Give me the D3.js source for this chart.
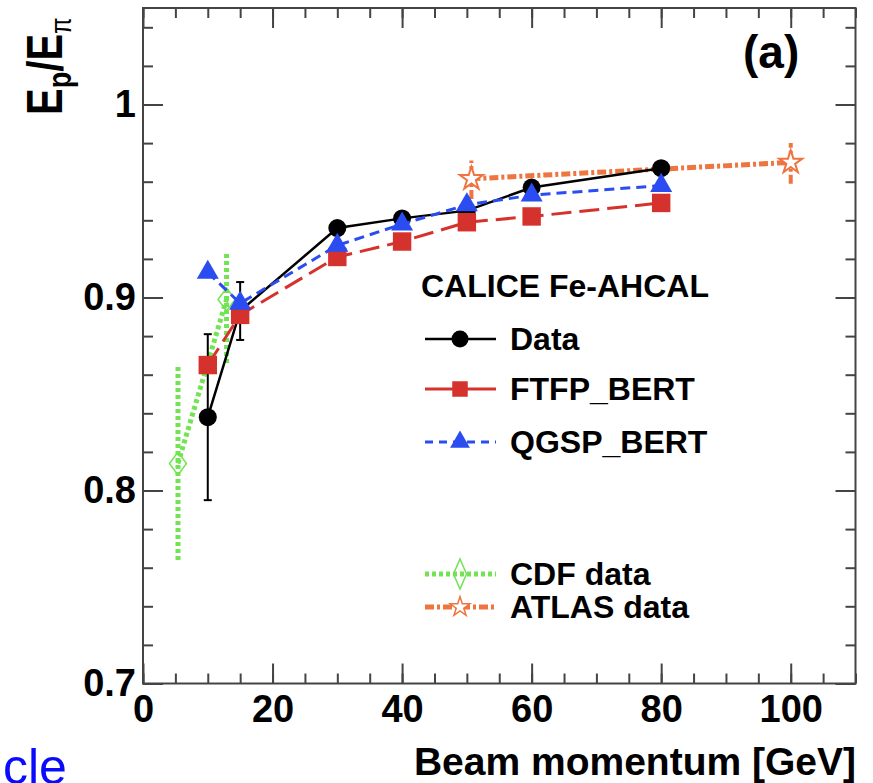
<!DOCTYPE html>
<html>
<head>
<meta charset="utf-8">
<script src="https://d3js.org/d3.v7.min.js"></script>
<style>
body { margin: 0; background: #fff; }
text { font-family: "Liberation Sans", Arial, Helvetica, sans-serif; font-weight: bold; }
</style>
</head>
<body>
<div id="chart"></div>
<script>
// CALICE Fe-AHCAL points, beam momentum in GeV
var momenta = [10, 15, 30, 40, 50, 60, 80];
var dataVals = [0.838, 0.893, 0.936, 0.941, 0.945, 0.957, 0.967];
var dataErr = [0.043, 0.015, 0.003, 0.003, 0.003, 0.003, 0.003];
var ftfpVals = [0.865, 0.891, 0.921, 0.929, 0.939, 0.942, 0.949];
var qgspVals = [0.913, 0.897, 0.927, 0.938, 0.948, 0.953, 0.958];

// older measurements
var cdfMomenta = [5.4, 12.9];
var cdfVals = [0.814, 0.899];
var cdfLow = [0.764, 0.866];
var cdfHigh = [0.865, 0.923];
var atlasMomenta = [50.7, 100];
var atlasVals = [0.9615, 0.970];
var atlasLow = [0.951, 0.959];
var atlasHigh = [0.971, 0.980];

var xTicks = [0, 20, 40, 60, 80, 100];
var yTicks = [0.7, 0.8, 0.9, 1];
var xMinor = d3.range(0, 23).map(function(i) { return i * 5; });
var yMinor = d3.range(0, 18).map(function(i) { return Math.round((0.7 + i * 0.02) * 100) / 100; });

var width = 873, height = 783;
var frameLeft = 143, frameRight = 855.5, frameTop = 8, frameBottom = 683.5;

var red = '#d6322d', blue = '#2a4cf0', green = '#72e352', orange = '#ee7440';

var x = d3.scaleLinear().domain([0, 110]).range([frameLeft, frameRight]);
var y = d3.scaleLinear().domain([0.7, 1.05]).range([frameBottom, frameTop]);

var svg = d3.select('#chart').append('svg')
    .attr('width', width)
    .attr('height', height)
    .style('background', 'white');

// axes: major + minor ticks on all four sides, pointing inwards
function addAxis(axis, tx, ty) {
    var g = svg.append('g')
        .attr('transform', 'translate(' + tx + ',' + ty + ')')
        .attr('font-family', null)
        .attr('font-size', null)
        .call(axis);
    g.select('.domain').remove();
    g.selectAll('line').attr('stroke', '#444').attr('stroke-width', 2);
    g.selectAll('text').attr('fill', '#000').style('font-size', '38px');
    return g;
}

addAxis(d3.axisBottom(x).tickValues(xMinor).tickSize(-10).tickFormat(''), 0, frameBottom);
addAxis(d3.axisBottom(x).tickValues(xTicks).tickSize(-20).tickPadding(12).tickFormat(d3.format('d')), 0, frameBottom);
addAxis(d3.axisTop(x).tickValues(xMinor).tickSize(-10).tickFormat(''), 0, frameTop);
addAxis(d3.axisTop(x).tickValues(xTicks).tickSize(-20).tickFormat(''), 0, frameTop);
addAxis(d3.axisLeft(y).tickValues(yMinor).tickSize(-10).tickFormat(''), frameLeft, 0);
addAxis(d3.axisLeft(y).tickValues(yTicks).tickSize(-20).tickPadding(7)
    .tickFormat(function(d) { return d === 1 ? '1' : d3.format('.1f')(d); }), frameLeft, 0);
addAxis(d3.axisRight(y).tickValues(yMinor).tickSize(-10).tickFormat(''), frameRight, 0);
addAxis(d3.axisRight(y).tickValues(yTicks).tickSize(-20).tickFormat(''), frameRight, 0);

svg.append('rect')
    .attr('x', frameLeft).attr('y', frameTop)
    .attr('width', frameRight - frameLeft).attr('height', frameBottom - frameTop)
    .attr('fill', 'none')
    .attr('stroke', '#444')
    .attr('stroke-width', 2);

var plot = svg.append('g');

function diamondPath(w, h) {
    return 'M0,' + (-h / 2) + 'L' + (w / 2) + ',0L0,' + (h / 2) + 'L' + (-w / 2) + ',0Z';
}

function series(xs, ys, color, dash, lw) {
    var line = d3.line()
        .x(function(d) { return x(d[0]); })
        .y(function(d) { return y(d[1]); });
    plot.append('path')
        .datum(d3.zip(xs, ys))
        .attr('d', line)
        .attr('fill', 'none')
        .attr('stroke', color)
        .attr('stroke-width', lw)
        .attr('stroke-dasharray', dash);
}

function errorBars(xs, lows, highs, color, dash, lw, cap) {
    var rows = d3.zip(xs, lows, highs);
    plot.selectAll(null).data(rows).enter().append('line')
        .attr('x1', function(d) { return x(d[0]); })
        .attr('x2', function(d) { return x(d[0]); })
        .attr('y1', function(d) { return y(d[1]); })
        .attr('y2', function(d) { return y(d[2]); })
        .attr('stroke', color)
        .attr('stroke-width', lw)
        .attr('stroke-dasharray', dash);
    if (cap) {
        [1, 2].forEach(function(k) {
            plot.selectAll(null).data(rows).enter().append('line')
                .attr('x1', function(d) { return x(d[0]) - cap; })
                .attr('x2', function(d) { return x(d[0]) + cap; })
                .attr('y1', function(d) { return y(d[k]); })
                .attr('y2', function(d) { return y(d[k]); })
                .attr('stroke', color)
                .attr('stroke-width', lw);
        });
    }
}

function markers(xs, ys, pathStr, fill, stroke, sw) {
    plot.selectAll(null).data(d3.zip(xs, ys)).enter().append('path')
        .attr('transform', function(d) { return 'translate(' + x(d[0]) + ',' + y(d[1]) + ')'; })
        .attr('d', pathStr)
        .attr('fill', fill)
        .attr('stroke', stroke)
        .attr('stroke-width', sw);
}

// ATLAS
series(atlasMomenta, atlasVals, orange, '9,3,3,3', 5);
errorBars(atlasMomenta, atlasLow, atlasHigh, orange, '9,3,3,3', 4, 0);
markers(atlasMomenta, atlasVals, d3.symbol().type(d3.symbolStar).size(165)(), 'white', orange, 2);

// CDF
series(cdfMomenta, cdfVals, green, '4,3', 5);
errorBars(cdfMomenta, cdfLow, cdfHigh, green, '4,3', 5, 0);
markers(cdfMomenta, cdfVals, diamondPath(17, 23), 'none', green, 1.5);

// Data
series(momenta, dataVals, 'black', null, 2.5);
errorBars(momenta, dataVals.map(function(v, i) { return v - dataErr[i]; }),
    dataVals.map(function(v, i) { return v + dataErr[i]; }), 'black', null, 2, 4);
markers(momenta, dataVals, d3.symbol().type(d3.symbolCircle).size(254)(), 'black', 'none', 0);

// FTFP_BERT
series(momenta, ftfpVals, red, '20,8', 3);
markers(momenta, ftfpVals, d3.symbol().type(d3.symbolSquare).size(340)(), red, 'none', 0);

// QGSP_BERT
series(momenta, qgspVals, blue, '10,6', 3);
markers(momenta, qgspVals, d3.symbol().type(d3.symbolTriangle).size(210)(), blue, 'none', 0);

// legend
var legend = svg.append('g');
legend.append('text').attr('x', 421).attr('y', 297).style('font-size', '32px').text('CALICE Fe-AHCAL');

var legendRows = [
    { label: 'Data', y: 339, color: 'black', dash: null, lw: 2.5, sym: d3.symbol().type(d3.symbolCircle).size(227)(), fill: 'black', stroke: 'none' },
    { label: 'FTFP_BERT', y: 389, color: red, dash: null, lw: 3, sym: d3.symbol().type(d3.symbolSquare).size(240)(), fill: red, stroke: 'none' },
    { label: 'QGSP_BERT', y: 442, color: blue, dash: '8,6', lw: 3, sym: d3.symbol().type(d3.symbolTriangle).size(170)(), fill: blue, stroke: 'none' },
    { label: 'CDF data', y: 574, color: green, dash: '4,3', lw: 5, sym: diamondPath(13, 30), fill: 'none', stroke: green },
    { label: 'ATLAS data', y: 607, color: orange, dash: '9,3,3,3', lw: 5, sym: d3.symbol().type(d3.symbolStar).size(120)(), fill: 'white', stroke: orange }
];

legendRows.forEach(function(r) {
    legend.append('line')
        .attr('x1', 425).attr('x2', 496)
        .attr('y1', r.y).attr('y2', r.y)
        .attr('stroke', r.color)
        .attr('stroke-width', r.lw)
        .attr('stroke-dasharray', r.dash);
    legend.append('path')
        .attr('transform', 'translate(460,' + r.y + ')')
        .attr('d', r.sym)
        .attr('fill', r.fill)
        .attr('stroke', r.stroke)
        .attr('stroke-width', 1.5);
    legend.append('text')
        .attr('x', 510).attr('y', r.y + 11)
        .style('font-size', '32px')
        .text(r.label);
});

// panel label
svg.append('text').attr('x', 743).attr('y', 68).style('font-size', '46px').text('(a)');

// axis titles
svg.append('text')
    .attr('x', 856).attr('y', 775)
    .attr('text-anchor', 'end')
    .style('font-size', '39px')
    .text('Beam momentum [GeV]');

var ylab = svg.append('text')
    .attr('transform', 'translate(62,115) rotate(-90) scale(0.8,1)')
    .style('font-size', '50px');
ylab.append('tspan').text('E');
ylab.append('tspan').attr('dy', 9).style('font-size', '34px').text('p');
ylab.append('tspan').attr('dy', -9).text('/E');
ylab.append('tspan').attr('dy', 9).style('font-size', '30px').style('font-weight', 'normal').text('π');

// link remnant at the bottom left of the screenshot
svg.append('text')
    .attr('x', 3).attr('y', 784)
    .attr('fill', '#0a0aff')
    .style('font-weight', 'normal')
    .style('font-size', '50px')
    .text('cle');
</script>
</body>
</html>
